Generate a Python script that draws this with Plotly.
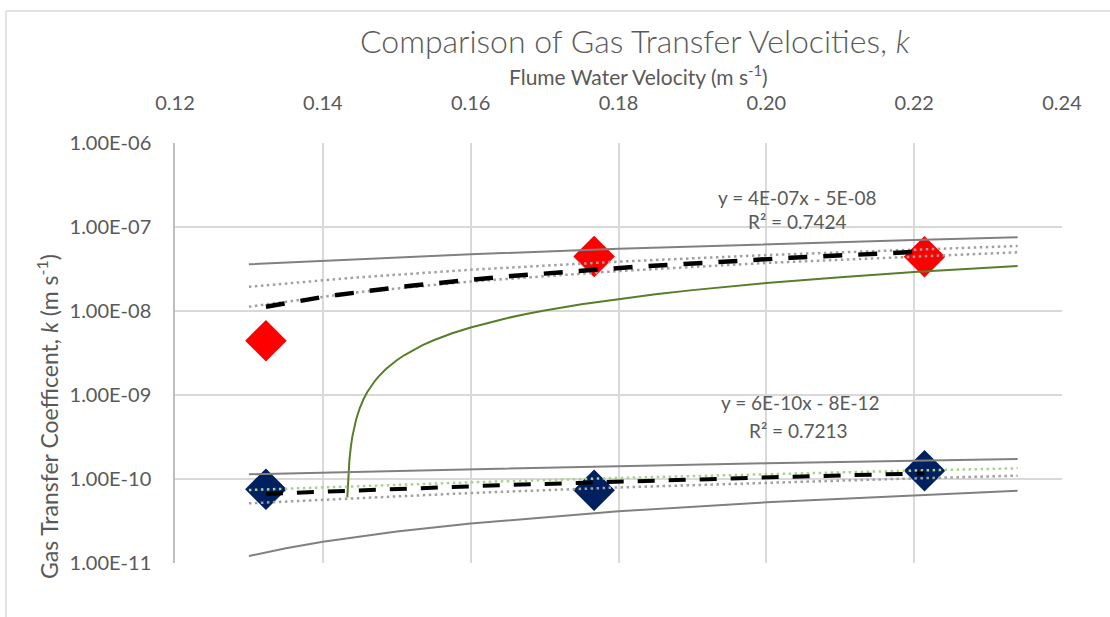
import numpy as np
import plotly.graph_objects as go

# Flume water velocity (m s-1) for each run
velocity = [0.1323, 0.1767, 0.2214]

# Measured gas transfer velocities k (m s-1)
k_red = [4.43e-9, 4.462e-8, 4.43e-8]
k_blue = [7.55e-11, 7.35e-11, 1.256e-10]

# Bounding curves sampled along the velocity axis
band_x = [0.130, 0.145, 0.160, 0.180, 0.200, 0.220, 0.234]
red_upper = [3.600e-8, 4.168e-8, 4.737e-8, 5.496e-8, 6.254e-8, 7.012e-8, 7.543e-8]
red_dot_upper = [1.947e-8, 2.523e-8, 3.100e-8, 3.868e-8, 4.637e-8, 5.406e-8, 5.944e-8]
red_dot_lower = [1.125e-8, 1.684e-8, 2.243e-8, 2.989e-8, 3.734e-8, 4.479e-8, 5.001e-8]
blue_upper = [1.138e-10, 1.2235e-10, 1.309e-10, 1.4229e-10, 1.5369e-10, 1.6509e-10, 1.7306e-10]
blue_dot_green = [7.396e-11, 8.263e-11, 9.131e-11, 1.0287e-10, 1.1443e-10, 1.2599e-10, 1.3409e-10]
blue_dot_grey = [5.137e-11, 5.976e-11, 6.815e-11, 7.933e-11, 9.051e-11, 1.0169e-10, 1.0952e-10]

lower_x = [0.130, 0.135, 0.140, 0.145, 0.150, 0.160, 0.180, 0.200, 0.220, 0.234]
blue_lower = [1.211e-11, 1.502e-11, 1.793e-11, 2.084e-11, 2.375e-11, 2.956e-11,
              4.120e-11, 5.284e-11, 6.448e-11, 7.262e-11]

green_x = [0.14331, 0.1434, 0.1436, 0.1438, 0.144, 0.1445, 0.145, 0.1455, 0.146, 0.147,
           0.1475, 0.1485, 0.149, 0.150, 0.151, 0.1525, 0.1535, 0.155, 0.1575, 0.160,
           0.1625, 0.165, 0.1675, 0.170, 0.175, 0.180, 0.185, 0.190, 0.195, 0.200,
           0.210, 0.220, 0.234]
green_k = [6.05e-11, 9.46e-11, 1.702e-10, 2.459e-10, 3.216e-10, 5.107e-10, 6.999e-10,
           8.890e-10, 1.078e-9, 1.456e-9, 1.6456e-9, 2.024e-9, 2.213e-9, 2.591e-9,
           2.970e-9, 3.537e-9, 3.915e-9, 4.483e-9, 5.429e-9, 6.374e-9, 7.320e-9,
           8.266e-9, 9.212e-9, 1.0157e-8, 1.2049e-8, 1.394e-8, 1.5832e-8, 1.772e-8,
           1.9615e-8, 2.151e-8, 2.529e-8, 2.907e-8, 3.437e-8]

# Axis ticks
x_ticks = [0.12, 0.14, 0.16, 0.18, 0.20, 0.22, 0.24]
y_ticks = [1e-11, 1e-10, 1e-9, 1e-8, 1e-7, 1e-6]
y_ticktext = ["1.00E-11", "1.00E-10", "1.00E-09", "1.00E-08", "1.00E-07", "1.00E-06"]

# Trendline labels
red_eq = "y = 4E-07x - 5E-08"
red_r2 = "R² = 0.7424"
blue_eq = "y = 6E-10x - 8E-12"
blue_r2 = "R² = 0.7213"

FONT = "Lato, 'Open Sans', sans-serif"
GREY_TXT = "#595959"

W, H = 1110, 617
L, R, T, B = 175, 48, 143, 54


def px(xp):
    return (xp - L) / (W - L - R)


def py(yp):
    return (H - B - yp) / (H - T - B)


def linear_fit(x, y):
    slope, intercept = np.polyfit(x, y, 1)
    xs = np.linspace(min(x), max(x), 60)
    return xs, slope * xs + intercept


fig = go.Figure()

# Measured points (drawn first so the lines sit on top)
fig.add_trace(go.Scatter(x=velocity, y=k_red, mode="markers",
                         marker=dict(symbol="diamond", size=32, color="#ff0000",
                                     line=dict(width=0))))
fig.add_trace(go.Scatter(x=velocity, y=k_blue, mode="markers",
                         marker=dict(symbol="diamond", size=32, color="#002060",
                                     line=dict(width=0))))

solid_grey = dict(color="#808080", width=2)
dot_grey = dict(color="#a0a0a0", width=2.5, dash="2.5px,3.5px")
dot_green = dict(color="#a9d18e", width=2.5, dash="2.5px,3.5px")

fig.add_trace(go.Scatter(x=band_x, y=red_upper, mode="lines", line=solid_grey))
fig.add_trace(go.Scatter(x=band_x, y=red_dot_upper, mode="lines", line=dot_grey))
fig.add_trace(go.Scatter(x=band_x, y=red_dot_lower, mode="lines", line=dot_grey))
fig.add_trace(go.Scatter(x=green_x, y=green_k, mode="lines",
                         line=dict(color="#5a7d2a", width=2)))

fig.add_trace(go.Scatter(x=band_x, y=blue_upper, mode="lines", line=solid_grey))
fig.add_trace(go.Scatter(x=lower_x, y=blue_lower, mode="lines", line=solid_grey))
fig.add_trace(go.Scatter(x=band_x, y=blue_dot_green, mode="lines", line=dot_green))
fig.add_trace(go.Scatter(x=band_x, y=blue_dot_grey, mode="lines", line=dot_grey))

# Least-squares trendlines through the measured points
fx, fy = linear_fit(velocity, k_red)
fig.add_trace(go.Scatter(x=fx, y=fy, mode="lines",
                         line=dict(color="#000000", width=4.5, dash="19px,16px")))
fx, fy = linear_fit(velocity, k_blue)
fig.add_trace(go.Scatter(x=fx, y=fy, mode="lines",
                         line=dict(color="#000000", width=4, dash="17px,14px")))

annotations = [
    dict(x=px(635), y=py(40), text="Comparison of Gas Transfer Velocities, <i>k</i>",
         font=dict(family=FONT, size=32, color=GREY_TXT, weight=300)),
    dict(x=px(638), y=py(75), text="Flume Water Velocity (m s<sup>-1</sup>)",
         font=dict(family=FONT, size=21, color=GREY_TXT)),
    dict(x=px(47), y=py(417), textangle=-90,
         text="Gas Transfer Coefficent, <i>k</i> (m s<sup>-1</sup>)",
         font=dict(family=FONT, size=23, color=GREY_TXT)),
    dict(x=px(797), y=py(197), text=red_eq, font=dict(family=FONT, size=19, color=GREY_TXT)),
    dict(x=px(797), y=py(221), text=red_r2, font=dict(family=FONT, size=19, color=GREY_TXT)),
    dict(x=px(800), y=py(402), text=blue_eq, font=dict(family=FONT, size=19, color=GREY_TXT)),
    dict(x=px(798), y=py(430), text=blue_r2, font=dict(family=FONT, size=19, color=GREY_TXT)),
]
for a in annotations:
    a.update(xref="paper", yref="paper", showarrow=False, xanchor="center", yanchor="middle")

border = dict(color="#d9d9d9", width=1.5)
shapes = [
    dict(type="line", xref="paper", yref="paper", x0=px(6), x1=px(W + 5), y0=py(11), y1=py(11), line=border),
    dict(type="line", xref="paper", yref="paper", x0=px(6), x1=px(6), y0=py(11), y1=py(H + 5), line=border),
]

fig.update_layout(
    width=W, height=H,
    margin=dict(l=L, r=R, t=T, b=B),
    paper_bgcolor="white", plot_bgcolor="white",
    showlegend=False, hovermode=False,
    annotations=annotations, shapes=shapes,
    font=dict(family=FONT, color=GREY_TXT),
    xaxis=dict(
        side="top", range=[0.12, 0.24], tickvals=x_ticks, tickformat=".2f",
        showgrid=True, gridcolor="#d9d9d9", gridwidth=1.5,
        zeroline=False, showline=False,
        ticks="outside", ticklen=24, tickcolor="rgba(0,0,0,0)",
        tickfont=dict(family=FONT, size=20, color=GREY_TXT),
    ),
    yaxis=dict(
        type="log", range=[-11, -6], tickvals=y_ticks, ticktext=y_ticktext,
        showgrid=True, gridcolor="#d9d9d9", gridwidth=1.5,
        zeroline=False, showline=True, linecolor="#bfbfbf", linewidth=1.5,
        ticks="outside", ticklen=18, tickcolor="rgba(0,0,0,0)",
        tickfont=dict(family=FONT, size=20, color=GREY_TXT),
    ),
)

fig.write_html("out.html")
